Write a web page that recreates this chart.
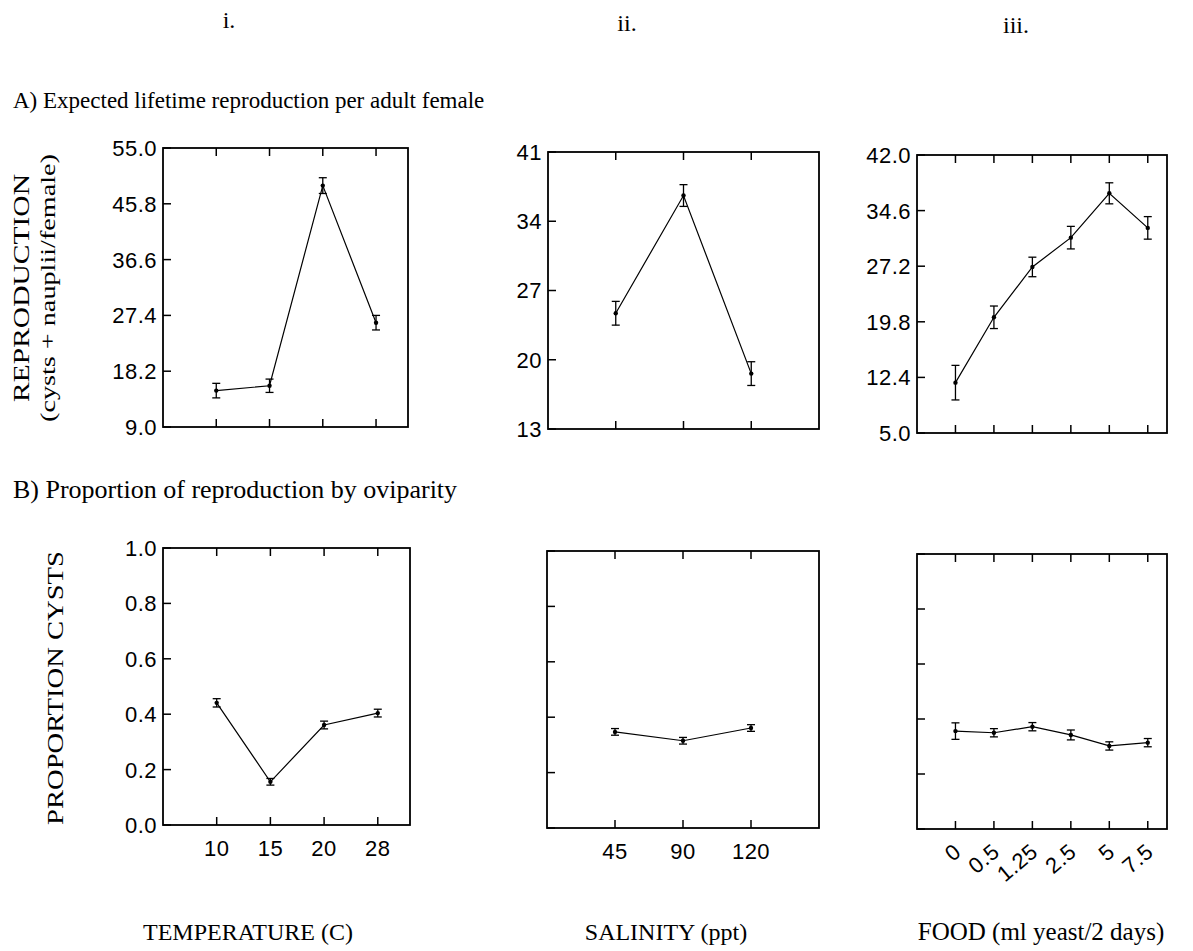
<!DOCTYPE html>
<html>
<head>
<meta charset="utf-8">
<script src="https://cdn.jsdelivr.net/npm/d3@7"></script>
<style>
  body { margin: 0; background: #fff; }
  .serif { font-family: 'Liberation Serif', 'Times New Roman', serif; fill: #000; }
  .tick-label { font-family: 'Liberation Sans', Arial, sans-serif; font-size: 22px; letter-spacing: 0.5px; fill: #000; }
</style>
</head>
<body>
<div id="chart"></div>
<script>
// temperature panels
const tempCats = ['10', '15', '20', '28']
const tempRepro = [15.0, 15.8, 48.8, 26.2]
const tempReproErr = [1.2, 1.1, 1.3, 1.2]
const tempProp = [0.441, 0.156, 0.361, 0.404]
const tempPropErr = [0.015, 0.012, 0.014, 0.014]

// salinity panels
const salCats = ['45', '90', '120']
const salRepro = [24.7, 36.6, 18.6]
const salReproErr = [1.2, 1.1, 1.2]
const salProp = [0.347, 0.315, 0.361]
const salPropErr = [0.012, 0.012, 0.012]

// food panels
const foodCats = ['0', '0.5', '1.25', '2.5', '5', '7.5']
const foodRepro = [11.7, 20.4, 27.1, 31.0, 36.9, 32.3]
const foodReproErr = [2.3, 1.5, 1.3, 1.5, 1.4, 1.5]
const foodProp = [0.356, 0.350, 0.372, 0.342, 0.302, 0.314]
const foodPropErr = [0.03, 0.015, 0.015, 0.018, 0.015, 0.015]

// y tick values
const tempReproTicks = [9.0, 18.2, 27.4, 36.6, 45.8, 55.0]
const salReproTicks = [13, 20, 27, 34, 41]
const foodReproTicks = [5.0, 12.4, 19.8, 27.2, 34.6, 42.0]
const propTicks = [0, 0.2, 0.4, 0.6, 0.8, 1.0]

const width = 1193
const height = 951

const svg = d3
  .select('#chart')
  .append('svg')
  .attr('width', width)
  .attr('height', height)

function panel(opts) {
  const x = d3
    .scaleLinear()
    .domain(opts.xDomain)
    .range([opts.left, opts.right])
  const y = d3
    .scaleLinear()
    .domain(opts.yDomain)
    .range([opts.bottom, opts.top])

  const g = svg.append('g')
  const idx = opts.cats.map((c, i) => i)
  const tickLen = 8

  // frame
  g.append('rect')
    .attr('x', opts.left)
    .attr('y', opts.top)
    .attr('width', opts.right - opts.left)
    .attr('height', opts.bottom - opts.top)
    .attr('fill', 'none')
    .attr('stroke', '#000')
    .attr('stroke-width', 1.8)

  // x ticks, bottom and top, pointing inward
  g.selectAll('.xt')
    .data(idx)
    .enter()
    .append('line')
    .attr('x1', d => x(d))
    .attr('x2', d => x(d))
    .attr('y1', opts.bottom)
    .attr('y2', opts.bottom - tickLen)
    .attr('stroke', '#000')
    .attr('stroke-width', 1.5)
  g.selectAll('.xtt')
    .data(idx)
    .enter()
    .append('line')
    .attr('x1', d => x(d))
    .attr('x2', d => x(d))
    .attr('y1', opts.top)
    .attr('y2', opts.top + tickLen)
    .attr('stroke', '#000')
    .attr('stroke-width', 1.5)

  // y ticks
  g.selectAll('.yt')
    .data(opts.yTicks)
    .enter()
    .append('line')
    .attr('x1', opts.left)
    .attr('x2', opts.left + tickLen)
    .attr('y1', d => y(d))
    .attr('y2', d => y(d))
    .attr('stroke', '#000')
    .attr('stroke-width', 1.5)

  if (opts.yFormat) {
    g.selectAll('.yl')
      .data(opts.yTicks)
      .enter()
      .append('text')
      .attr('class', 'tick-label')
      .attr('x', opts.left - 6)
      .attr('y', d => y(d))
      .attr('dy', '0.36em')
      .attr('text-anchor', 'end')
      .text(d => d3.format(opts.yFormat)(d))
  }

  if (opts.xLabels === 'flat') {
    g.selectAll('.xl')
      .data(idx)
      .enter()
      .append('text')
      .attr('class', 'tick-label')
      .attr('x', d => x(d))
      .attr('y', opts.bottom + 31)
      .attr('text-anchor', 'middle')
      .text(d => opts.cats[d])
  } else if (opts.xLabels === 'rotated') {
    g.selectAll('.xl')
      .data(idx)
      .enter()
      .append('text')
      .attr('class', 'tick-label')
      .attr('text-anchor', 'end')
      .attr(
        'transform',
        d => 'translate(' + (x(d) + 7) + ',' + (opts.bottom + 25) + ') rotate(-40)'
      )
      .text(d => opts.cats[d])
  }

  const pts = opts.values.map((v, i) => ({ i: i, v: v, e: opts.errs[i] }))

  const line = d3
    .line()
    .x(d => x(d.i))
    .y(d => y(d.v))

  g.append('path')
    .datum(pts)
    .attr('d', line)
    .attr('fill', 'none')
    .attr('stroke', '#000')
    .attr('stroke-width', 1.2)

  // error bars
  const cap = 4
  const eb = g
    .selectAll('.eb')
    .data(pts)
    .enter()
    .append('g')
  eb.append('line')
    .attr('x1', d => x(d.i))
    .attr('x2', d => x(d.i))
    .attr('y1', d => y(d.v - d.e))
    .attr('y2', d => y(d.v + d.e))
    .attr('stroke', '#000')
    .attr('stroke-width', 1.3)
  eb.append('line')
    .attr('x1', d => x(d.i) - cap)
    .attr('x2', d => x(d.i) + cap)
    .attr('y1', d => y(d.v + d.e))
    .attr('y2', d => y(d.v + d.e))
    .attr('stroke', '#000')
    .attr('stroke-width', 1.3)
  eb.append('line')
    .attr('x1', d => x(d.i) - cap)
    .attr('x2', d => x(d.i) + cap)
    .attr('y1', d => y(d.v - d.e))
    .attr('y2', d => y(d.v - d.e))
    .attr('stroke', '#000')
    .attr('stroke-width', 1.3)
  eb.append('circle')
    .attr('cx', d => x(d.i))
    .attr('cy', d => y(d.v))
    .attr('r', 2.2)
    .attr('fill', '#000')
}

// row A
panel({ cats: tempCats, values: tempRepro, errs: tempReproErr, yTicks: tempReproTicks,
  yDomain: [9, 55], xDomain: [-1, 3.6], left: 163, right: 408, top: 148, bottom: 427, yFormat: '.1f' })
panel({ cats: salCats, values: salRepro, errs: salReproErr, yTicks: salReproTicks,
  yDomain: [13, 41], xDomain: [-1, 3], left: 548, right: 819, top: 152, bottom: 429, yFormat: 'd' })
panel({ cats: foodCats, values: foodRepro, errs: foodReproErr, yTicks: foodReproTicks,
  yDomain: [5, 42], xDomain: [-1, 5.5], left: 917, right: 1167, top: 155, bottom: 433, yFormat: '.1f' })

// row B
panel({ cats: tempCats, values: tempProp, errs: tempPropErr, yTicks: propTicks,
  yDomain: [0, 1], xDomain: [-1, 3.6], left: 163, right: 410, top: 548, bottom: 825, yFormat: '.1f', xLabels: 'flat' })
panel({ cats: salCats, values: salProp, errs: salPropErr, yTicks: propTicks,
  yDomain: [0, 1], xDomain: [-1, 3], left: 547, right: 819, top: 551, bottom: 828, xLabels: 'flat' })
panel({ cats: foodCats, values: foodProp, errs: foodPropErr, yTicks: propTicks,
  yDomain: [0, 1], xDomain: [-1, 5.5], left: 917, right: 1167, top: 554, bottom: 829, xLabels: 'rotated' })

// headings
const serif = (x, y, txt, size, anchor) =>
  svg.append('text')
    .attr('class', 'serif')
    .attr('x', x)
    .attr('y', y)
    .attr('text-anchor', anchor || 'start')
    .attr('font-size', size)
    .text(txt)

serif(229, 28, 'i.', 24, 'middle')
serif(627, 31, 'ii.', 24, 'middle')
serif(1016, 33, 'iii.', 24, 'middle')
serif(13, 108, 'A) Expected lifetime reproduction per adult female', 23)
serif(13, 498, 'B) Proportion of reproduction by oviparity', 26)
serif(248, 940, 'TEMPERATURE (C)', 24, 'middle')
serif(666, 940, 'SALINITY (ppt)', 24, 'middle')
serif(1041, 940, 'FOOD (ml yeast/2 days)', 25, 'middle')

// rotated y titles
svg.append('text').attr('class', 'serif')
  .attr('transform', 'translate(29,288) rotate(-90)')
  .attr('text-anchor', 'middle').attr('font-size', 23)
  .attr('textLength', 228).attr('lengthAdjust', 'spacingAndGlyphs')
  .text('REPRODUCTION')
svg.append('text').attr('class', 'serif')
  .attr('transform', 'translate(55,288) rotate(-90)')
  .attr('text-anchor', 'middle').attr('font-size', 22)
  .attr('textLength', 268).attr('lengthAdjust', 'spacingAndGlyphs')
  .text('(cysts + nauplii/female)')
svg.append('text').attr('class', 'serif')
  .attr('transform', 'translate(63,688) rotate(-90)')
  .attr('text-anchor', 'middle').attr('font-size', 23)
  .attr('textLength', 274).attr('lengthAdjust', 'spacingAndGlyphs')
  .text('PROPORTION CYSTS')
</script>
</body>
</html>
